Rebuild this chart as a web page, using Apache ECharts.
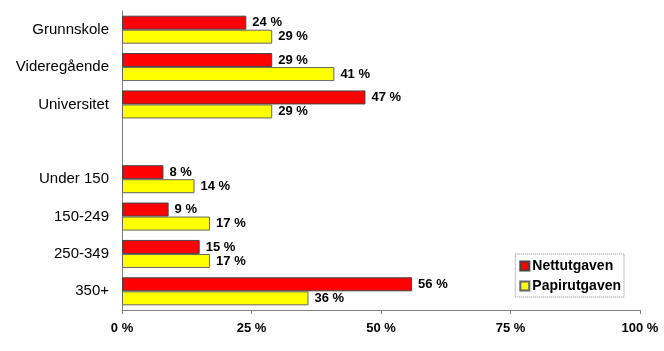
<!DOCTYPE html>
<html>
<head>
<meta charset="utf-8">
<script src="https://cdn.jsdelivr.net/npm/echarts@6/dist/echarts.min.js"></script>
<style>
  html, body { margin: 0; padding: 0; background: #fff; }
  #myChart { width: 664px; height: 351px; }
</style>
</head>
<body>
<div id="myChart"></div>
<script>
// kategorier (tom plass mellom utdanning og inntekt)
const categories = ['Grunnskole', 'Videregående', 'Universitet', '', 'Under 150', '150-249', '250-349', '350+'];
const nettutgaven = [24, 29, 47, '-', 8, 9, 15, 56];
const papirutgaven = [29, 41, 29, '-', 14, 17, 17, 36];
const xTicks = [0, 25, 50, 75, 100];

const font = 'Arial, "Liberation Sans", sans-serif';

let myChart = echarts.init(document.getElementById('myChart'));

let labelStyle = {
  show: true,
  position: 'right',
  distance: 6,
  formatter: '{c} %',
  color: '#000',
  fontWeight: 'bold',
  fontSize: 13,
  fontFamily: font
};

let option = {
  animation: false,
  grid: { left: 122, right: 24, top: 11, bottom: 41 },
  legend: {
    orient: 'vertical',
    right: 40,
    top: 254,
    icon: 'rect',
    itemWidth: 9,
    itemHeight: 9,
    itemGap: 6,
    padding: [5, 3, 4, 4],
    borderColor: '#888',
    borderWidth: 1,
    borderType: 'dotted',
    textStyle: { fontFamily: font, fontWeight: 'bold', fontSize: 14, color: '#000', padding: [0, 0, 0, -2] },
    data: ['Nettutgaven', 'Papirutgaven']
  },
  xAxis: {
    type: 'value',
    min: xTicks[0],
    max: xTicks[xTicks.length - 1],
    interval: 25,
    splitLine: { show: false },
    axisLine: { show: true, lineStyle: { color: '#808080' } },
    axisTick: { show: true, length: 4, lineStyle: { color: '#808080' } },
    axisLabel: {
      formatter: '{value} %',
      color: '#000',
      fontWeight: 'bold',
      fontSize: 13,
      fontFamily: font,
      margin: 12
    }
  },
  yAxis: {
    type: 'category',
    inverse: true,
    data: categories,
    axisLine: { show: true, lineStyle: { color: '#808080' } },
    axisTick: { show: false },
    axisLabel: { color: '#000', fontSize: 15, fontFamily: font, margin: 13 }
  },
  series: [
    {
      name: 'Nettutgaven',
      type: 'bar',
      data: nettutgaven,
      barWidth: 14,
      barGap: '0%',
      itemStyle: { color: '#ff0000', borderColor: '#444', borderWidth: 1 },
      label: labelStyle
    },
    {
      name: 'Papirutgaven',
      type: 'bar',
      data: papirutgaven,
      barWidth: 14,
      barGap: '0%',
      itemStyle: { color: '#ffff00', borderColor: '#666', borderWidth: 1 },
      label: labelStyle
    }
  ]
};

myChart.setOption(option);
</script>
</body>
</html>
